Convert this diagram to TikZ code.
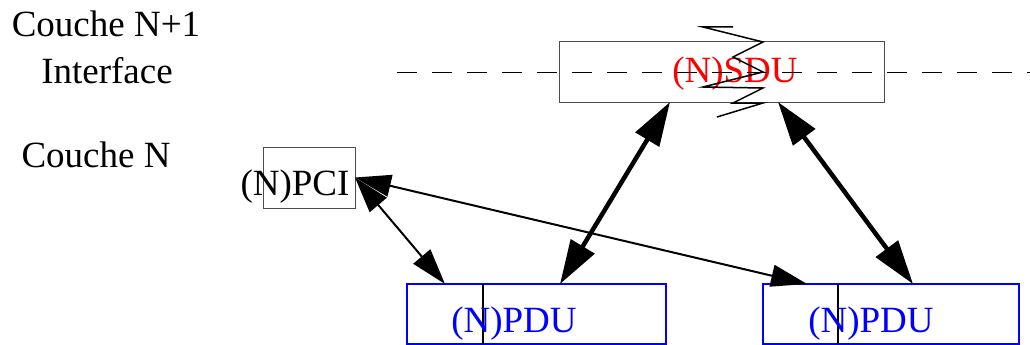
\documentclass[tikz,border=0pt]{standalone}
\usepackage{fontspec}
\setmainfont{Liberation Serif}
\usetikzlibrary{arrows.meta}
\tikzset{
  lbl/.style={anchor=base, inner sep=0pt, font=\fontsize{37pt}{40pt}\selectfont},
  graybox/.style={draw=black!70, line width=1pt, inner sep=0pt, outer sep=0pt},
  bluebox/.style={draw=blue, line width=2pt, inner sep=0pt, outer sep=0pt},
  thinarrow/.style={line width=2pt, {Triangle[length=36pt,width=22pt]}-{Triangle[length=36pt,width=22pt]}},
  thickarrow/.style={line width=4.5pt, {Triangle[length=44pt,width=27pt]}-{Triangle[length=44pt,width=27pt]}},
  divider/.style={draw=black, line width=2pt},
  ifline/.style={dash pattern=on 20pt off 15pt, line width=1pt},
  zig/.style={line width=1.5pt}
}
\begin{document}
\begin{tikzpicture}[x=1pt,y=-1pt]
\useasboundingbox (0,0) rectangle (1030,345);
% boxes
\node[graybox, minimum width=325pt, minimum height=60pt] (sdu) at (721.5,72) {};
\node[graybox, minimum width=92pt, minimum height=61pt] (pci) at (309,177.5) {};
\node[bluebox, minimum width=259pt, minimum height=60pt] (pdu1) at (536.5,314) {};
\node[bluebox, minimum width=256pt, minimum height=60pt] (pdu2) at (891,314) {};
\draw[divider] ([xshift=76pt]pdu1.north west) -- ([xshift=76pt]pdu1.south west);
\draw[divider] ([xshift=75pt]pdu2.north west) -- ([xshift=75pt]pdu2.south west);
% labels
\node[lbl] (cn1) at (106,37) {Couche N+1};
\node[lbl] (itf) at (107,83) {Interface};
\node[lbl] (cn) at (96,167) {Couche N};
\node[lbl] (pcit) at (295,195) {(N)PCI};
\node[lbl, text=red] (sdut) at (735,82) {(N)SDU};
\node[lbl, text=blue] (pdut1) at (514,332) {(N)PDU};
\node[lbl, text=blue] (pdut2) at (871,332) {(N)PDU};
% interface line
\coordinate (ifl) at (397,72);
\coordinate (ifr) at (1030,72);
\draw[ifline] (ifl) -- (ifr);
% break symbol
\draw[zig] (733,27) -- (703,27) -- (763,42) -- (733,57) -- (763,72) -- (703,87) -- (763,88) -- (733,103) -- (763,103) -- (717,117);
% arrows
\draw[thinarrow] (pci.east) -- ([xshift=38pt]pdu1.north west);
\draw[thinarrow] (pci.east) -- ([xshift=44pt]pdu2.north west);
\draw[thickarrow] ([xshift=111pt]sdu.south west) -- ([xshift=153pt]pdu1.north west);
\draw[thickarrow] ([xshift=219pt]sdu.south west) -- ([xshift=150pt]pdu2.north west);
\end{tikzpicture}
\end{document}
